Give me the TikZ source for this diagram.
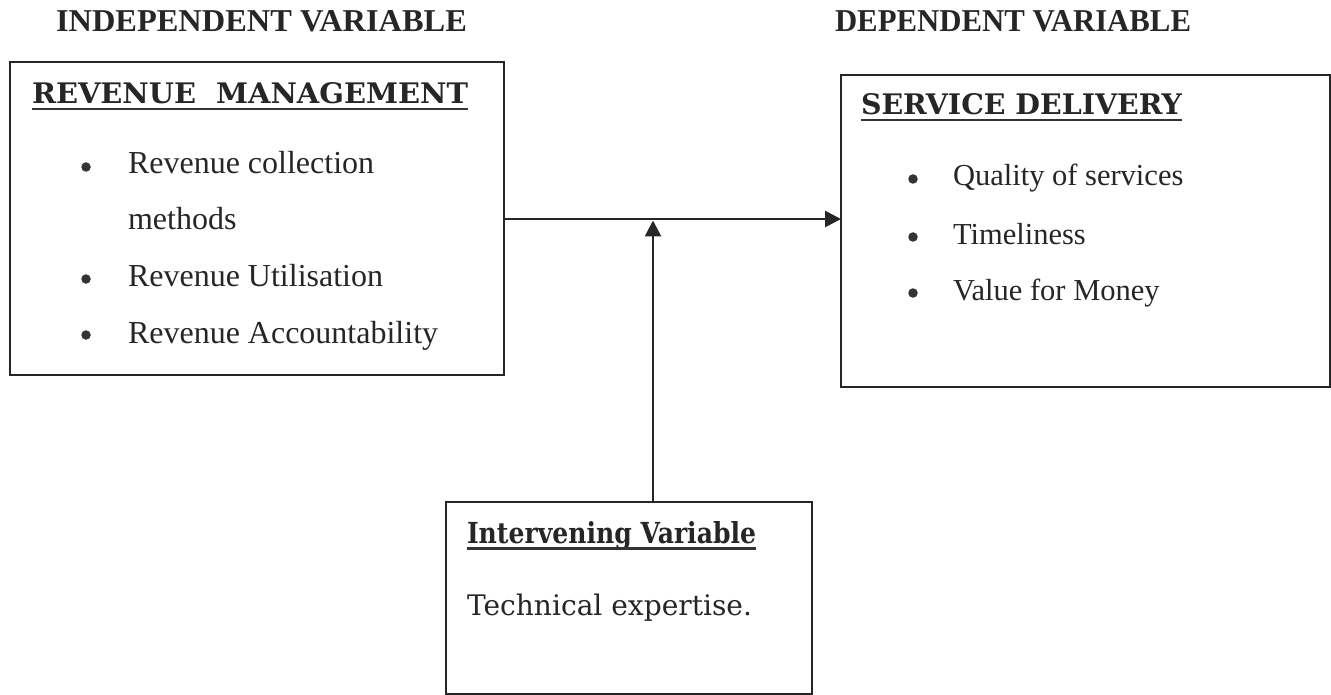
\documentclass[tikz,border=0pt]{standalone}
\usepackage{fontspec}
\setmainfont{Liberation Serif}
\newfontfamily\bk{DejaVu Serif}
\usetikzlibrary{arrows.meta}
\tikzset{
  box/.style={draw=black!85, line width=2.5pt, rectangle, inner sep=0pt, outer sep=0pt},
  txt/.style={anchor=base west, inner sep=0pt, outer sep=0pt, text=black!85},
  arr/.style={line width=2.8pt, draw=black!85, -{Triangle[length=16pt,width=16pt]}},
  ul/.style={line width=2.2pt, draw=black!80},
  bul/.style={fill=black!80, draw=none, circle, minimum size=9.5pt, inner sep=0pt}
}
\begin{document}
\begin{tikzpicture}[x=1pt,y=-1pt]
\useasboundingbox (0,0) rectangle (1331,695);
% boxes
\node[box, minimum width=494pt, minimum height=313pt] (rm) at (257,218.5) {};
\node[box, minimum width=489pt, minimum height=312pt] (sd) at (1085.5,231) {};
\node[box, minimum width=366pt, minimum height=192pt] (iv) at (629,598) {};
% top headings
\node[txt] (indep) at (56,32) {\resizebox{411pt}{21pt}{\bfseries INDEPENDENT VARIABLE}};
\node[txt] (dep) at (835,32) {\resizebox{356pt}{21pt}{\bfseries DEPENDENT VARIABLE}};
% box titles
\node[txt] (rmt) at (32,104) {\resizebox{436pt}{21pt}{\bk\bfseries REVENUE\ \ MANAGEMENT}};
\draw[ul] (rmt.base west) ++(0,5) -- ++(436,0);
\node[txt] (sdt) at (861,115) {\resizebox{321pt}{21pt}{\bk\bfseries SERVICE DELIVERY}};
\draw[ul] (sdt.base west) ++(0,5) -- ++(321,0);
\node[txt] (ivt) at (467,543) {\resizebox{289pt}{22pt}{\bk\bfseries Intervening Variable}};
\draw[ul] (ivt.base west) ++(0,5.5) -- ++(289,0);
\node[txt] (ivb) at (467,615) {\resizebox{285pt}{21.5pt}{\bk Technical expertise.}};
% left items
\begin{scope}[every node/.append style={font=\fontsize{32}{38}\selectfont}]
\node[txt] (l1) at (128,174) {Revenue collection};
\node[txt] (l1b) at (128,230) {methods};
\node[txt] (l2) at (128,287) {Revenue Utilisation};
\node[txt] (l3) at (128,343) {Revenue Accountability};
\end{scope}
\node[bul] (b1) at (86,167) {};
\node[bul] (b2) at (86,279) {};
\node[bul] (b3) at (86,335) {};
% right items
\begin{scope}[every node/.append style={font=\fontsize{30.5}{36}\selectfont}]
\node[txt] (r1) at (953,186) {Quality of services};
\node[txt] (r2) at (953,245) {Timeliness};
\node[txt] (r3) at (953,300) {Value for Money};
\end{scope}
\node[bul] (c1) at (913,179) {};
\node[bul] (c2) at (913,237) {};
\node[bul] (c3) at (913,293) {};
% connectors
\coordinate (j) at (653,219);
\draw[arr] (rm.east |- j) -- (sd.west |- j);
\draw[arr, shorten >=1.5pt] (iv.north -| j) -- (j);
\end{tikzpicture}
\end{document}
